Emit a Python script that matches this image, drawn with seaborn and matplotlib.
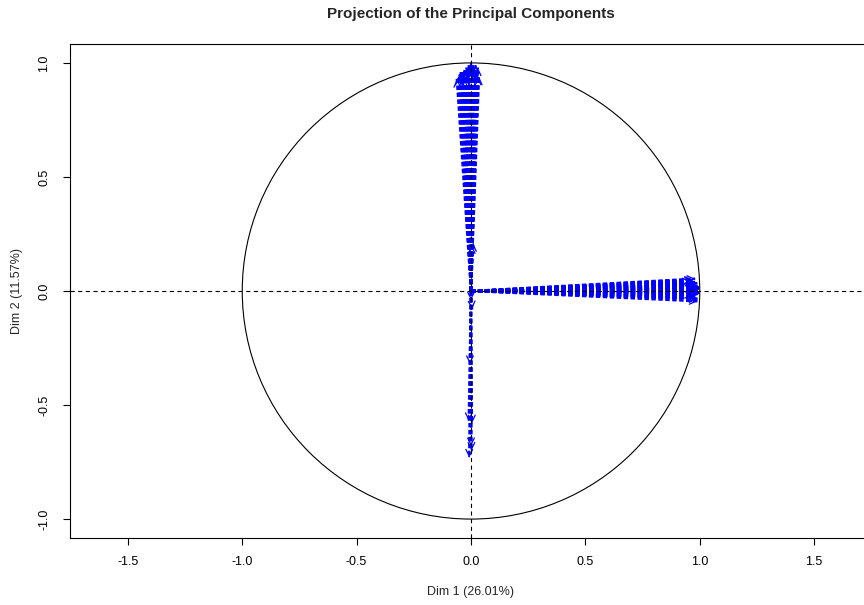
import numpy as np
import pandas as pd
import matplotlib
matplotlib.use("Agg")
import matplotlib.pyplot as plt
import seaborn as sns

# Variable coordinates on the first two dimensions
# variables loading on Dim 1
dim1_x = [0.99, 0.98, 0.99, 1.00, 0.97, 0.99, 0.98, 0.99, 0.96, 0.99,
          1.00, 0.98, 0.99, 0.97, 0.99, 0.98, 0.99, 1.00, 0.98, 0.99,
          0.97, 0.99, 0.98, 0.99, 0.99, 0.98, 0.97, 0.99, 1.00, 0.98]
dim1_y = [0.014, -0.024, 0.034, -0.006, 0.050, -0.036, 0.026, 0.002, 0.043, -0.014,
          0.009, -0.030, 0.021, 0.038, -0.045, 0.031, -0.009, 0.017, -0.021, 0.005,
          0.046, -0.002, 0.028, -0.033, 0.011, 0.040, -0.017, 0.023, -0.011, 0.054]

# variables loading on Dim 2 (positive side)
dim2_x = [0.000, -0.010, 0.010, -0.020, 0.020, -0.030, 0.030, -0.040, 0.005, -0.015,
          0.015, -0.025, 0.025, -0.035, -0.050, -0.062, 0.035, 0.000, -0.005, 0.010,
          -0.020, 0.020, -0.045, 0.030, -0.010, 0.000, -0.030, 0.012, -0.055, 0.018,
          0.010, 0.004]
dim2_y = [1.00, 0.99, 0.99, 0.98, 0.99, 0.97, 0.98, 0.96, 0.97, 0.95,
          0.96, 0.94, 0.95, 0.94, 0.95, 0.93, 0.94, 0.98, 0.96, 0.95,
          0.94, 0.95, 0.96, 0.94, 0.97, 0.99, 0.95, 0.96, 0.94, 0.97,
          0.21, 0.20]

# variables on the negative side of Dim 2
neg_x = [0.000, 0.005, -0.005, -0.010, 0.004, 0.000, -0.008, 0.002]
neg_y = [-0.04, -0.08, -0.32, -0.57, -0.58, -0.68, -0.73, -0.70]

xticks = [-1.5, -1.0, -0.5, 0.0, 0.5, 1.0, 1.5]
yticks = [-1.0, -0.5, 0.0, 0.5, 1.0]

title = "Projection of the Principal Components"
xlab = "Dim 1 (26.01%)"
ylab = "Dim 2 (11.57%)"

sns.set_theme(style="white")
plt.rcParams["font.family"] = ["Liberation Sans", "DejaVu Sans"]
plt.rcParams["lines.scale_dashes"] = False
plt.rcParams["axes.edgecolor"] = "black"
plt.rcParams["axes.linewidth"] = 0.8

end_x = dim1_x + dim2_x + neg_x
end_y = dim1_y + dim2_y + neg_y
n = len(end_x)
rows = []
for i in range(n):
    rows.append({"var": f"V{i+1}", "x": 0.0, "y": 0.0})
    rows.append({"var": f"V{i+1}", "x": end_x[i], "y": end_y[i]})
df = pd.DataFrame(rows)

fig = plt.figure(figsize=(8.64, 6.05), dpi=100)
ax = fig.add_axes([70 / 864, 1 - 538 / 605, 802 / 864, 494 / 605])

# dashed arrow shafts from the origin
sns.lineplot(data=df, x="x", y="y", units="var", estimator=None, sort=False,
             color="blue", lw=1.7, linestyle=(0, (3.2, 1.8)), ax=ax, zorder=2)

# arrow heads
for x, y in zip(end_x, end_y):
    ax.annotate("", xy=(x, y), xytext=(x * 0.995, y * 0.995),
                arrowprops=dict(arrowstyle="->,head_length=0.4,head_width=0.2",
                                color="blue", lw=0.9, shrinkA=0, shrinkB=0),
                zorder=2)

# correlation circle and reference axes
ax.add_patch(plt.Circle((0, 0), 1.0, fill=False, color="black", lw=0.8, zorder=3))
ax.axhline(0, color="black", lw=0.8, linestyle=(0, (3, 2.5)), zorder=4)
ax.axvline(0, color="black", lw=0.8, linestyle=(0, (3, 2.5)), zorder=4)

ax.set_xlim(-1.753, 1.753)
ax.set_ylim(-1.083, 1.083)
ax.set_xticks(xticks)
ax.set_yticks(yticks)
ax.set_xticklabels([f"{v:.1f}" for v in xticks])
ax.set_yticklabels([f"{v:.1f}" for v in yticks], rotation=90, va="center")
ax.tick_params(axis="both", direction="out", length=5, width=0.8,
               labelsize=9, colors="black", bottom=True, left=True)
ax.tick_params(axis="x", pad=8)
ax.tick_params(axis="y", pad=9)
ax.set_xlabel("")
ax.set_ylabel("")
for s in ax.spines.values():
    s.set_color("black")
    s.set_linewidth(0.8)

fig.text(471 / 864, 1 - 14 / 605, title, ha="center", va="center",
         fontsize=11, fontweight="bold")
fig.text(471 / 864, 1 - 592 / 605, xlab, ha="center", va="center", fontsize=9)
fig.text(17 / 864, 1 - 291 / 605, ylab, ha="center", va="center",
         fontsize=9, rotation=90)

fig.savefig("out.png", dpi=100)
